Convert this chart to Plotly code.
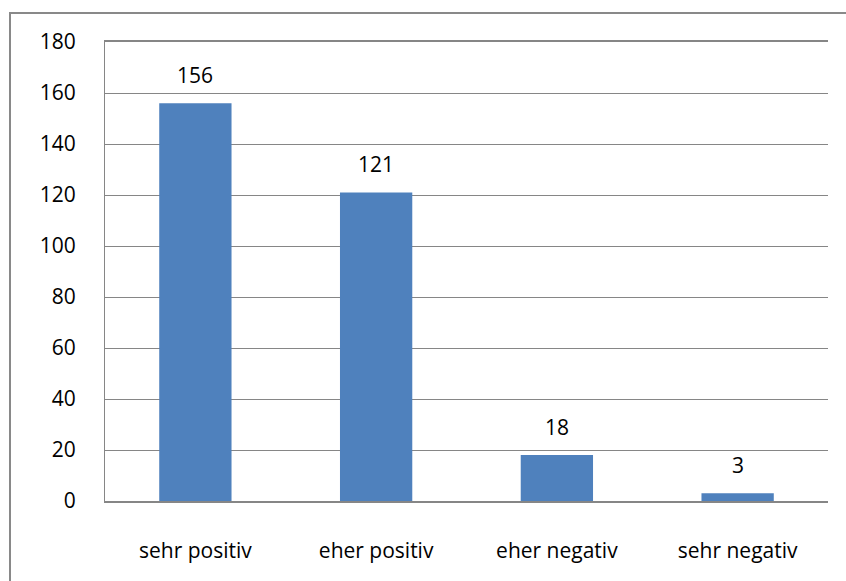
import plotly.graph_objects as go

categories = ["sehr positiv", "eher positiv", "eher negativ", "sehr negativ"]
values = [156, 121, 18, 3]
y_ticks = [0, 20, 40, 60, 80, 100, 120, 140, 160, 180]

FONT = "Open Sans, Liberation Sans, sans-serif"
FS = 21

fig = go.Figure(go.Bar(
    x=categories, y=values,
    marker=dict(color="#4F81BD", line=dict(width=0)),
    width=0.4, hoverinfo="x+y",
))

annotations = [
    dict(x=c, y=v, xref="x", yref="y", text=str(v), showarrow=False,
         yanchor="bottom", yshift=12, font=dict(family=FONT, size=FS, color="#000000"))
    for c, v in zip(categories, values)
]

fig.update_layout(
    width=846, height=581,
    margin=dict(l=105, r=18, t=42, b=80, autoexpand=False),
    paper_bgcolor="white", plot_bgcolor="white",
    font=dict(family=FONT, size=FS, color="#000000"),
    showlegend=False,
    annotations=annotations,
    xaxis=dict(showline=True, linecolor="#868686", linewidth=2, ticks="", mirror=True,
               automargin=False, ticklabelstandoff=30, tickfont=dict(size=FS)),
    yaxis=dict(range=[0, 180], tickvals=y_ticks, showgrid=True, gridcolor="#868686",
               gridwidth=1, showline=True, linecolor="#868686", linewidth=1,
               automargin=False, ticks="", ticklabelstandoff=24, zeroline=False,
               tickfont=dict(size=FS)),
    shapes=[dict(type="rect", xref="paper", yref="paper",
                 x0=-0.1314, x1=1.2, y0=-0.25, y1=1.0632,
                 line=dict(color="#898989", width=2), fillcolor="rgba(0,0,0,0)", layer="below")],
)

fig.write_html("out.html", config={"displayModeBar": False},
               post_script="document.body.style.margin='0px';document.body.style.overflow='hidden';")
